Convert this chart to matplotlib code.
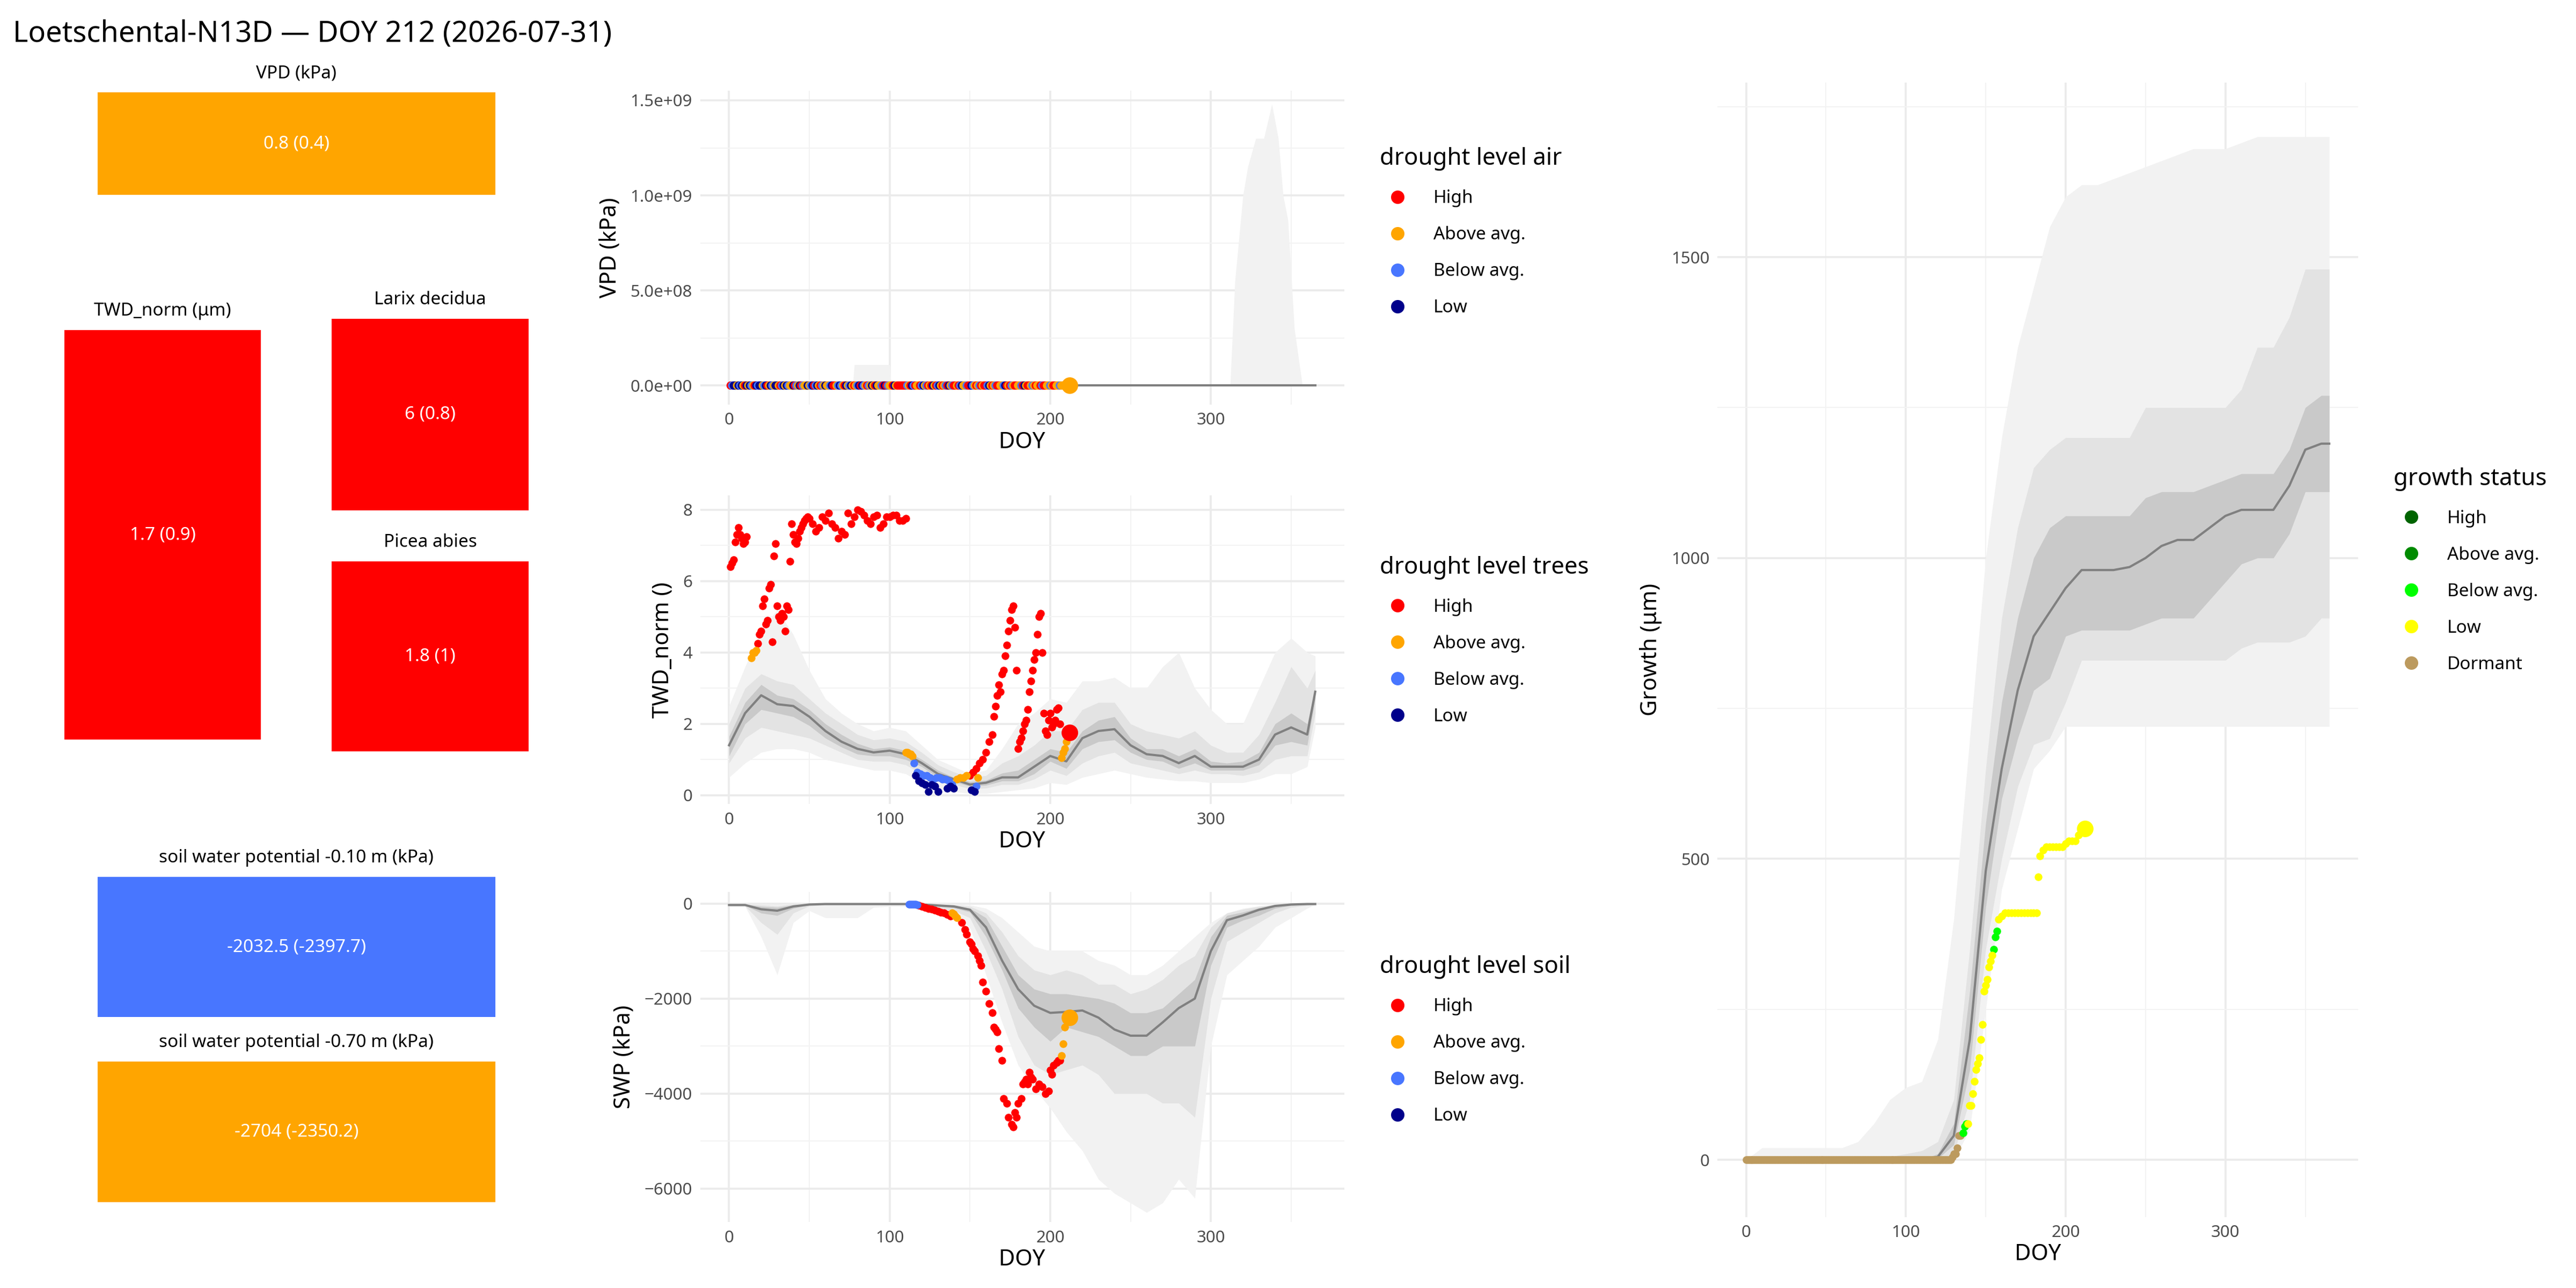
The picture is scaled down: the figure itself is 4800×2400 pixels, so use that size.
import numpy as np
import matplotlib.pyplot as plt
from matplotlib.patches import Rectangle
from matplotlib.lines import Line2D

plt.rcParams['font.family'] = ['Noto Sans', 'DejaVu Sans']

# ---- colours
lvl_names = ['High', 'Above avg.', 'Below avg.', 'Low']
lvl_cols = {'H': '#FF0000', 'A': '#FFA500', 'B': '#4876FF', 'L': '#00008B'}
grow_names = ['High', 'Above avg.', 'Below avg.', 'Low', 'Dormant']
grow_cols = ['#006400', '#008B00', '#00FF00', '#FFFF00', '#BC9A5E']
band_cols = ['#f2f2f2', '#e3e3e3', '#c9c9c9']

# ---- tiles
tile_vpd = '0.8 (0.4)'
tile_twd = '1.7 (0.9)'
tile_larix = '6 (0.8)'
tile_picea = '1.8 (1)'
tile_swp10 = '-2032.5 (-2397.7)'
tile_swp70 = '-2704 (-2350.2)'

# ---- climatology grid
doy_grid = [0, 10, 20, 30, 40, 50, 60, 70, 80, 90, 100, 110, 120, 130, 140, 150, 160, 170, 180,
            190, 200, 210, 220, 230, 240, 250, 260, 270, 280, 290, 300, 310, 320, 330, 340, 350, 360, 365]

# VPD band (outer only), median flat
vpd_band_doy = [0, 77, 78, 100, 101, 312, 315, 320, 323, 328, 333, 338, 342, 345, 348, 352, 357, 365]
vpd_band_hi = [0, 0, 1.1e8, 1.1e8, 0, 0, 5.5e8, 1.0e9, 1.15e9, 1.3e9, 1.3e9, 1.48e9, 1.3e9,
               1.0e9, 8.7e8, 3e8, 0, 0]
vpd_codes = list('HBLLALBLAHLALBAHLBLLABLHALBALLAHBLALBAALHBALHBAALABL'
                 'HBLAHBALAABLHHABLBAHLABLAHABLHLBAHBALAHLAABHLHBAAHLA'
                 'HHHHHHBAHLBHAAHBLABHAHLAHBLAHABHLABHHAHBLAABHHLBAHAB'
                 'HAHHBLAHABHHAABLHAHBAHHAABHLAHHABAHAAHBHHAABAHHAABAAAHAABA')

# TWD climatology
twd_med = [1.4, 2.3, 2.8, 2.55, 2.5, 2.2, 1.8, 1.5, 1.3, 1.2, 1.25, 1.15, 0.9, 0.6, 0.45, 0.3, 0.35,
           0.5, 0.5, 0.8, 1.1, 0.95, 1.6, 1.8, 1.85, 1.4, 1.15, 1.1, 0.9, 1.1, 0.8, 0.8, 0.8, 1.0,
           1.7, 1.9, 1.7, 2.9]
twd_q95_hi = [2.5, 3.6, 4.6, 5.2, 4.5, 3.5, 2.7, 2.3, 2.0, 1.8, 1.9, 1.8, 1.4, 1.0, 0.8, 0.6, 0.7,
              1.3, 2.0, 2.3, 2.7, 2.6, 3.2, 3.2, 3.3, 3.0, 3.0, 3.6, 4.0, 3.0, 2.4, 2.0, 2.0, 3.0,
              4.0, 4.4, 4.0, 3.9]
twd_q80_hi = [2.0, 3.0, 3.4, 3.2, 3.1, 2.7, 2.3, 2.0, 1.7, 1.55, 1.6, 1.5, 1.2, 0.85, 0.65, 0.5,
              0.55, 0.9, 1.1, 1.4, 1.8, 1.8, 2.4, 2.6, 2.6, 2.0, 1.8, 1.7, 1.6, 1.8, 1.4, 1.2, 1.2,
              1.7, 2.6, 3.6, 3.0, 3.5]
twd_q50_hi = [1.65, 2.6, 3.1, 2.8, 2.7, 2.4, 2.0, 1.7, 1.45, 1.3, 1.35, 1.25, 1.0, 0.7, 0.5, 0.38,
              0.42, 0.62, 0.7, 1.0, 1.3, 1.2, 1.8, 2.1, 2.2, 1.6, 1.3, 1.3, 1.1, 1.3, 0.95, 0.9,
              0.95, 1.2, 2.0, 2.3, 2.0, 3.0]
twd_q50_lo = [1.1, 2.0, 2.4, 2.3, 2.2, 1.95, 1.6, 1.35, 1.15, 1.1, 1.1, 1.0, 0.8, 0.5, 0.38, 0.25,
              0.28, 0.4, 0.4, 0.6, 0.95, 0.75, 1.3, 1.5, 1.55, 1.2, 1.0, 0.95, 0.75, 0.9, 0.7, 0.7,
              0.7, 0.85, 1.4, 1.5, 1.4, 2.7]
twd_q80_lo = [0.9, 1.6, 1.9, 1.8, 1.7, 1.6, 1.4, 1.2, 1.0, 0.95, 0.95, 0.85, 0.6, 0.4, 0.3, 0.18,
              0.2, 0.3, 0.3, 0.45, 0.7, 0.55, 0.9, 1.1, 1.2, 0.9, 0.8, 0.7, 0.6, 0.7, 0.6, 0.6,
              0.55, 0.65, 1.0, 1.1, 1.1, 2.3]
twd_q95_lo = [0.5, 0.9, 1.2, 1.3, 1.3, 1.2, 1.0, 0.9, 0.8, 0.7, 0.7, 0.6, 0.35, 0.2, 0.1, 0.05,
              0.05, 0.1, 0.15, 0.2, 0.35, 0.3, 0.5, 0.6, 0.7, 0.6, 0.5, 0.45, 0.4, 0.4, 0.35, 0.35,
              0.35, 0.45, 0.6, 0.6, 0.8, 1.9]

# TWD observations
twd_high_doy = [1, 2, 3, 4, 5, 6, 7, 8, 9, 10, 11, 18, 19, 20, 21, 22, 23, 24, 25, 26, 27, 28, 29,
                30, 31, 32, 33, 34, 35, 36, 37, 38, 39, 40, 41, 42, 43, 44, 45, 46, 47, 48, 49, 50,
                52, 54, 56, 58, 60, 62, 64, 66, 68, 70, 72, 74, 76, 78, 80, 82, 84, 86, 88, 90, 92,
                94, 96, 98, 100, 102, 104, 106, 108, 110,
                150, 152, 154, 156, 158, 160, 162, 164, 165, 166, 167, 168, 169, 170, 171, 172, 173,
                174, 175, 176, 177, 178, 179, 180, 181, 182, 183, 184, 185, 186, 187, 188, 189, 190,
                191, 192, 193, 194, 195, 196, 197, 198, 199, 200, 201, 202, 203, 204, 205, 206]
twd_high_val = [6.4, 6.5, 6.6, 7.1, 7.3, 7.5, 7.3, 7.2, 7.05, 7.1, 7.25, 4.25, 4.5, 4.6, 5.3, 5.5,
                4.8, 4.9, 5.8, 5.9, 4.3, 6.7, 7.05, 5.3, 5.0, 4.9, 5.1, 5.0, 4.6, 5.3, 5.2, 6.55,
                7.6, 7.3, 7.1, 7.05, 7.2, 7.4, 7.5, 7.6, 7.7, 7.75, 7.8, 7.75, 7.6, 7.4, 7.5, 7.8,
                7.7, 7.9, 7.6, 7.5, 7.2, 7.4, 7.3, 7.9, 7.6, 7.8, 8.0, 7.95, 7.85, 7.7, 7.6, 7.8,
                7.85, 7.5, 7.6, 7.8, 7.8, 7.85, 7.85, 7.7, 7.7, 7.75,
                0.55, 0.65, 0.75, 0.9, 1.0, 1.2, 1.5, 1.7, 2.2, 2.5, 2.8, 3.1, 2.9, 3.4, 3.5, 3.9,
                4.2, 4.6, 4.9, 5.2, 5.3, 4.7, 3.5, 1.3, 1.5, 1.6, 1.8, 2.0, 2.1, 2.4, 2.9, 3.2, 3.5,
                3.8, 4.0, 4.5, 5.0, 5.1, 4.0, 2.3, 1.8, 1.7, 2.1, 2.3, 1.9, 2.0, 2.1, 2.4, 2.45, 2.0]
twd_above_doy = [14, 15, 16, 17, 110, 111, 112, 113, 114, 142, 144, 146, 148, 155, 207, 208, 209, 210]
twd_above_val = [3.85, 4.0, 4.0, 4.05, 1.2, 1.2, 1.15, 1.15, 1.1, 0.45, 0.5, 0.5, 0.55, 0.5,
                 1.05, 1.2, 1.3, 1.5]
twd_below_doy = [115, 117, 119, 121, 123, 125, 127, 129, 131, 133, 135, 137, 139, 154]
twd_below_val = [0.9, 0.65, 0.6, 0.55, 0.55, 0.5, 0.45, 0.5, 0.5, 0.45, 0.45, 0.4, 0.3, 0.25]
twd_low_doy = [116, 118, 120, 122, 124, 126, 128, 130, 136, 138, 140, 151, 153]
twd_low_val = [0.55, 0.4, 0.35, 0.3, 0.1, 0.3, 0.25, 0.1, 0.2, 0.25, 0.2, 0.15, 0.1]
twd_last = (212, 1.75, 'H')

# SWP climatology
swp_med = [-30, -30, -120, -150, -60, -20, -10, -10, -10, -10, -10, -10, -20, -40, -60, -130, -500,
           -1200, -1800, -2150, -2300, -2280, -2250, -2400, -2650, -2780, -2780, -2500, -2200, -2000,
           -1000, -350, -250, -130, -50, -20, -10, -10]
swp_q50_hi = [-20, -20, -60, -80, -30, -10, -5, -5, -5, -5, -5, -5, -10, -25, -40, -100, -300, -900,
              -1500, -1800, -1900, -1900, -1950, -2000, -2100, -2300, -2300, -2200, -1900, -1600,
              -700, -250, -180, -90, -40, -10, -5, -5]
swp_q50_lo = [-40, -40, -200, -250, -100, -30, -15, -15, -15, -15, -15, -15, -30, -60, -90, -180,
              -700, -1400, -2200, -2600, -2900, -2600, -2700, -2800, -3000, -3200, -3200, -3000,
              -3000, -3000, -1300, -500, -350, -250, -100, -40, -20, -15]
swp_q80_hi = [-10, -10, -30, -50, -10, -5, -5, -5, -5, -5, -5, -5, -5, -15, -25, -60, -200, -600,
              -1100, -1400, -1500, -1400, -1500, -1700, -1700, -1900, -1800, -1600, -1300, -1100,
              -500, -200, -120, -60, -20, -5, -5, -5]
swp_q80_lo = [-50, -50, -400, -650, -200, -50, -30, -30, -30, -30, -30, -30, -50, -100, -150, -300,
              -1000, -1800, -2800, -3400, -3600, -3500, -3400, -3600, -4000, -4000, -4000, -4200,
              -4200, -4500, -2000, -800, -600, -400, -200, -80, -40, -20]
swp_q95_hi = [-10, -10, -20, -20, -5, -5, -5, -5, -5, -5, -5, -5, -5, -5, -10, -30, -100, -300, -600,
              -900, -1000, -1000, -1000, -1200, -1300, -1500, -1500, -1300, -1000, -700, -400, -200,
              -100, -50, -20, -5, -5, -5]
swp_q95_lo = [-60, -60, -700, -1500, -400, -150, -300, -300, -300, -80, -60, -60, -80, -150, -250,
              -500, -1500, -2500, -3400, -3900, -4300, -4800, -5200, -5800, -6100, -6300, -6500,
              -6300, -5800, -6200, -3000, -1500, -1200, -900, -500, -300, -100, -20]

# SWP observations
swp_below_doy = [112, 113, 114, 115, 116, 117]
swp_below_val = [-10, -12, -15, -18, -20, -25]
swp_high_doy = [118, 120, 122, 124, 126, 128, 130, 132, 134, 136, 138, 145, 147, 148, 150, 151, 152,
                153, 155, 156, 157, 158, 160, 162, 164, 165, 166, 167, 168, 170, 171, 173, 174, 176,
                177, 178, 179, 180, 182, 183, 184, 185, 186, 187, 188, 189, 191, 193, 195, 197, 199,
                200, 201, 202, 204, 205, 206]
swp_high_val = [-40, -60, -80, -100, -120, -140, -160, -180, -200, -230, -260, -400, -550, -650,
                -800, -850, -950, -1000, -1100, -1200, -1300, -1650, -1850, -2100, -2300, -2600,
                -2650, -2700, -3050, -3300, -4100, -4200, -4500, -4650, -4700, -4400, -4500, -4200,
                -4100, -3800, -3750, -3700, -3800, -3550, -3650, -3700, -3900, -3800, -3850, -4000,
                -3950, -3500, -3600, -3400, -3350, -3300, -3300]
swp_above_doy = [139, 140, 141, 142, 207, 208, 209, 210]
swp_above_val = [-200, -220, -260, -300, -3200, -2950, -2600, -2450]
swp_last = (212, -2400, 'A')

# Growth climatology
gro_med = [0, 0, 0, 0, 0, 0, 0, 0, 0, 0, 0, 0, 5, 40, 200, 480, 650, 780, 870, 910, 950, 980, 980,
           980, 985, 1000, 1020, 1030, 1030, 1050, 1070, 1080, 1080, 1080, 1120, 1180, 1190, 1190]
gro_q50_hi = [0, 0, 0, 0, 0, 0, 0, 0, 0, 0, 0, 0, 10, 60, 280, 560, 760, 900, 1000, 1050, 1070, 1070,
              1070, 1070, 1070, 1100, 1110, 1110, 1110, 1120, 1130, 1140, 1140, 1140, 1180, 1250,
              1270, 1270]
gro_q50_lo = [0, 0, 0, 0, 0, 0, 0, 0, 0, 0, 0, 0, 2, 25, 150, 420, 600, 700, 780, 800, 870, 880, 880,
              880, 880, 890, 900, 900, 900, 930, 960, 990, 1000, 1000, 1040, 1110, 1110, 1110]
gro_q80_hi = [0, 0, 0, 0, 0, 0, 0, 0, 0, 5, 10, 15, 30, 100, 350, 650, 900, 1050, 1150, 1180, 1200,
              1200, 1200, 1200, 1200, 1250, 1250, 1250, 1250, 1250, 1250, 1280, 1350, 1350, 1400,
              1480, 1480, 1480]
gro_q80_lo = [0, 0, 0, 0, 0, 0, 0, 0, 0, 0, 0, 0, 0, 10, 100, 350, 500, 620, 690, 700, 760, 830, 830,
              830, 830, 830, 830, 830, 830, 830, 830, 850, 860, 860, 860, 870, 900, 900]
gro_q95_hi = [0, 20, 20, 20, 20, 20, 20, 30, 60, 100, 120, 130, 200, 400, 700, 1000, 1200, 1350,
              1450, 1550, 1600, 1620, 1620, 1630, 1640, 1650, 1660, 1670, 1680, 1680, 1680, 1690,
              1700, 1700, 1700, 1700, 1700, 1700]
gro_q95_lo = [0, 0, 0, 0, 0, 0, 0, 0, 0, 0, 0, 0, 0, 0, 50, 250, 450, 550, 650, 680, 720, 720, 720,
              720, 720, 720, 720, 720, 720, 720, 720, 720, 720, 720, 720, 720, 720, 720]

# Growth observations
gro_dormant_doy = list(range(0, 129)) + [129, 130, 131, 132, 133, 134]
gro_dormant_val = [0] * 129 + [5, 10, 10, 20, 40, 40]
gro_below_doy = [136, 137, 138, 155, 156, 157]
gro_below_val = [45, 55, 60, 350, 370, 380]
gro_low_doy = [139, 140, 141, 142, 143, 144, 145, 146, 147, 148, 149, 150, 151, 152, 153, 154, 158,
               160, 162, 164, 166, 168, 170, 172, 174, 176, 178, 180, 182, 183, 184, 186, 188, 190,
               192, 194, 196, 198, 200, 202, 204, 206, 208, 210]
gro_low_val = [60, 90, 90, 110, 130, 150, 160, 170, 200, 225, 280, 290, 300, 320, 330, 340, 400,
               405, 410, 410, 410, 410, 410, 410, 410, 410, 410, 410, 410, 470, 505, 515, 520, 520,
               520, 520, 520, 520, 525, 530, 530, 530, 540, 545]
gro_last = (212, 550)

fig = plt.figure(figsize=(16, 8), dpi=300)
fig.text(0.005, 0.985, 'Loetschental-N13D \u2014 DOY 212 (2026-07-31)', fontsize=13, va='top')


def px(x0, y0, x1, y1):
    W, H = 1560.0, 780.0
    return [x0 / W, 1 - y1 / H, (x1 - x0) / W, (y1 - y0) / H]


def tile(x0, y0, x1, y1, colour, title, value):
    r = px(x0, y0, x1, y1)
    fig.add_artist(Rectangle((r[0], r[1]), r[2], r[3], transform=fig.transFigure,
                             facecolor=colour, edgecolor='none'))
    fig.text(r[0] + r[2] / 2, r[1] + r[3] / 2, value, color='white', fontsize=8,
             ha='center', va='center')
    fig.text(r[0] + r[2] / 2, r[1] + r[3] + 0.008, title, fontsize=8, ha='center', va='bottom')


tile(59, 56, 300, 118, lvl_cols['A'], 'VPD (kPa)', tile_vpd)
tile(39, 200, 158, 448, lvl_cols['H'], 'TWD_norm (\u03bcm)', tile_twd)
tile(201, 193, 320, 309, lvl_cols['H'], 'Larix decidua', tile_larix)
tile(201, 340, 320, 455, lvl_cols['H'], 'Picea abies', tile_picea)
tile(59, 531, 300, 616, lvl_cols['B'], 'soil water potential -0.10 m (kPa)', tile_swp10)
tile(59, 643, 300, 728, lvl_cols['A'], 'soil water potential -0.70 m (kPa)', tile_swp70)


def style(ax, ylabel):
    for s in ax.spines.values():
        s.set_visible(False)
    ax.tick_params(which='both', length=0, labelsize=7.5, labelcolor='#4d4d4d')
    ax.set_xticks([0, 100, 200, 300])
    ax.set_xticks([50, 150, 250, 350], minor=True)
    ax.grid(True, which='major', color='#ebebeb', lw=0.9)
    ax.grid(True, which='minor', color='#f3f3f3', lw=0.5)
    ax.set_axisbelow(True)
    ax.set_xlim(-18, 383)
    ax.set_xlabel('DOY', fontsize=10, labelpad=1)
    ax.set_ylabel(ylabel, fontsize=10)


def bands(ax, his, los, med):
    for hi, lo, c in zip(his, los, band_cols):
        ax.fill_between(doy_grid, lo, hi, color=c, lw=0, zorder=1)
    ax.plot(doy_grid, med, color='#808080', lw=1.0, zorder=2)


def legend(ax, title, names, cols, loc_y):
    h = [Line2D([], [], ls='', marker='o', ms=5, color=c) for c in cols]
    leg = ax.legend(h, names, title=title, loc='center left', bbox_to_anchor=(1.03, loc_y),
                    frameon=False, fontsize=8, title_fontsize=10.5, labelspacing=1.05,
                    handletextpad=1.0)
    leg._legend_box.align = 'left'


level_cols = [lvl_cols[k] for k in 'HABL']

# VPD panel
ax1 = fig.add_axes(px(424, 55, 814, 245))
ax1.fill_between(vpd_band_doy, 0, vpd_band_hi, color=band_cols[0], lw=0, zorder=1)
ax1.plot([0, 365], [0, 0], color='#808080', lw=1.0, zorder=2)
vpd_days = np.arange(1, len(vpd_codes) + 1)
ax1.scatter(vpd_days, np.zeros(len(vpd_days)), c=[lvl_cols[k] for k in vpd_codes], s=14,
            lw=0, zorder=3)
ax1.scatter([212], [0], c=lvl_cols['A'], s=55, lw=0, zorder=4)
ax1.set_ylim(-0.1e9, 1.55e9)
ax1.set_yticks([0, 0.5e9, 1.0e9, 1.5e9])
ax1.set_yticklabels(['0.0e+00', '5.0e+08', '1.0e+09', '1.5e+09'])
ax1.set_yticks([0.25e9, 0.75e9, 1.25e9], minor=True)
style(ax1, 'VPD (kPa)')
legend(ax1, 'drought level air', lvl_names, level_cols, 0.55)

# TWD panel
ax2 = fig.add_axes(px(424, 300, 814, 487))
bands(ax2, [twd_q95_hi, twd_q80_hi, twd_q50_hi], [twd_q95_lo, twd_q80_lo, twd_q50_lo], twd_med)
for d, v, k in [(twd_high_doy, twd_high_val, 'H'), (twd_above_doy, twd_above_val, 'A'),
                (twd_below_doy, twd_below_val, 'B'), (twd_low_doy, twd_low_val, 'L')]:
    ax2.scatter(d, v, c=lvl_cols[k], s=12, lw=0, zorder=3)
ax2.scatter([twd_last[0]], [twd_last[1]], c=lvl_cols[twd_last[2]], s=55, lw=0, zorder=4)
ax2.set_ylim(-0.25, 8.4)
ax2.set_yticks([0, 2, 4, 6, 8])
ax2.set_yticks([1, 3, 5, 7], minor=True)
style(ax2, 'TWD_norm ()')
legend(ax2, 'drought level trees', lvl_names, level_cols, 0.53)

# SWP panel
ax3 = fig.add_axes(px(424, 540, 814, 740))
bands(ax3, [swp_q95_hi, swp_q80_hi, swp_q50_hi], [swp_q95_lo, swp_q80_lo, swp_q50_lo], swp_med)
for d, v, k in [(swp_high_doy, swp_high_val, 'H'), (swp_above_doy, swp_above_val, 'A'),
                (swp_below_doy, swp_below_val, 'B')]:
    ax3.scatter(d, v, c=lvl_cols[k], s=12, lw=0, zorder=3)
ax3.scatter([swp_last[0]], [swp_last[1]], c=lvl_cols[swp_last[2]], s=55, lw=0, zorder=4)
ax3.set_ylim(-6700, 250)
ax3.set_yticks([-6000, -4000, -2000, 0])
ax3.set_yticks([-5000, -3000, -1000], minor=True)
style(ax3, 'SWP (kPa)')
legend(ax3, 'drought level soil', lvl_names, level_cols, 0.55)

# Growth panel
ax4 = fig.add_axes(px(1040, 50, 1428, 737))
bands(ax4, [gro_q95_hi, gro_q80_hi, gro_q50_hi], [gro_q95_lo, gro_q80_lo, gro_q50_lo], gro_med)
for d, v, c in [(gro_dormant_doy, gro_dormant_val, grow_cols[4]),
                (gro_below_doy, gro_below_val, grow_cols[2]),
                (gro_low_doy, gro_low_val, grow_cols[3])]:
    ax4.scatter(d, v, c=c, s=12, lw=0, zorder=3)
ax4.scatter([gro_last[0]], [gro_last[1]], c=grow_cols[3], s=55, lw=0, zorder=4)
ax4.set_ylim(-95, 1790)
ax4.set_yticks([0, 500, 1000, 1500])
ax4.set_yticks([250, 750, 1250, 1750], minor=True)
style(ax4, 'Growth (\u03bcm)')
legend(ax4, 'growth status', grow_names, grow_cols, 0.57)

fig.savefig('out.png', dpi=300, facecolor='white')
